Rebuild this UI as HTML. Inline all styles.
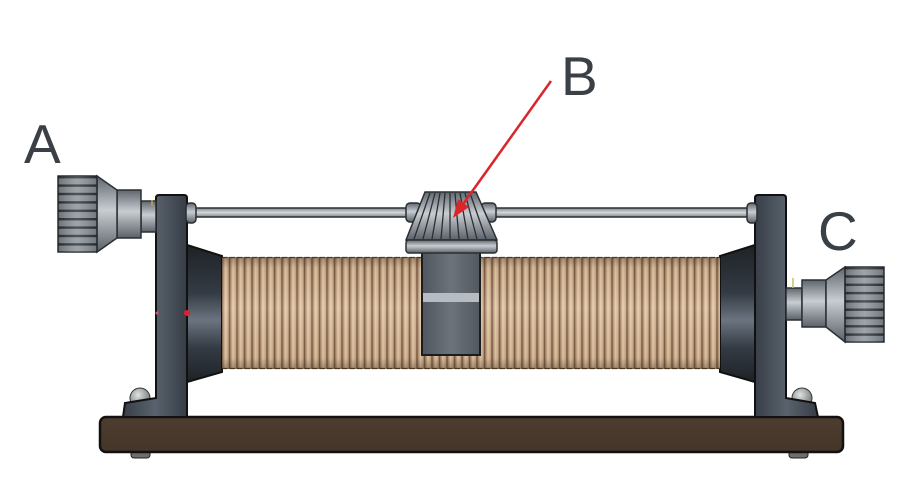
<!DOCTYPE html>
<html><head><meta charset="utf-8"><style>
html,body{margin:0;padding:0;background:#fff;}
svg{display:block;}
text{font-family:"Liberation Sans",sans-serif;fill:#3b4046;}
</style></head><body>
<svg width="900" height="497" viewBox="0 0 900 497" xmlns="http://www.w3.org/2000/svg">
<defs>
  <linearGradient id="metalV" x1="0" y1="0" x2="0" y2="1">
    <stop offset="0" stop-color="#5f666d"/>
    <stop offset="0.45" stop-color="#c8cdd2"/>
    <stop offset="1" stop-color="#5a6168"/>
  </linearGradient>
  <linearGradient id="rodG" x1="0" y1="0" x2="0" y2="1">
    <stop offset="0" stop-color="#7d858c"/>
    <stop offset="0.5" stop-color="#d4d8dc"/>
    <stop offset="1" stop-color="#7d858c"/>
  </linearGradient>
  <linearGradient id="standG" x1="0" y1="0" x2="1" y2="0">
    <stop offset="0" stop-color="#383f48"/>
    <stop offset="0.5" stop-color="#59616c"/>
    <stop offset="1" stop-color="#363d45"/>
  </linearGradient>
  <linearGradient id="flangeG" x1="0" y1="0" x2="0" y2="1">
    <stop offset="0" stop-color="#1e2227"/>
    <stop offset="0.35" stop-color="#343b43"/>
    <stop offset="0.55" stop-color="#6b7480"/>
    <stop offset="0.75" stop-color="#343b43"/>
    <stop offset="1" stop-color="#1e2227"/>
  </linearGradient>
  <linearGradient id="turnG" x1="0" y1="0" x2="1" y2="0">
    <stop offset="0" stop-color="#6a4e36"/>
    <stop offset="0.12" stop-color="#a9876a"/>
    <stop offset="0.45" stop-color="#e8ceae"/>
    <stop offset="0.82" stop-color="#cfac88"/>
    <stop offset="1" stop-color="#6a4e36"/>
  </linearGradient>
  <pattern id="coilP" x="222" y="0" width="7.5" height="10" patternUnits="userSpaceOnUse">
    <rect x="0" y="0" width="7.5" height="10" fill="url(#turnG)"/>
  </pattern>
  <linearGradient id="coilShade" x1="0" y1="0" x2="0" y2="1">
    <stop offset="0" stop-color="#3a2a1c" stop-opacity="0.4"/>
    <stop offset="0.1" stop-color="#3a2a1c" stop-opacity="0.08"/>
    <stop offset="0.45" stop-color="#fff" stop-opacity="0.1"/>
    <stop offset="0.9" stop-color="#3a2a1c" stop-opacity="0.08"/>
    <stop offset="1" stop-color="#3a2a1c" stop-opacity="0.4"/>
  </linearGradient>
  <linearGradient id="sliderG" x1="0" y1="0" x2="1" y2="0">
    <stop offset="0" stop-color="#50565e"/>
    <stop offset="0.5" stop-color="#6c737b"/>
    <stop offset="1" stop-color="#52585f"/>
  </linearGradient>
  <pattern id="knurlP" x="0" y="176" width="10" height="8.4" patternUnits="userSpaceOnUse">
    <rect width="10" height="8.4" fill="#8c949b"/>
    <rect y="0" width="10" height="2.4" fill="#2f3439"/>
  </pattern>
  <pattern id="knurlP2" x="0" y="267" width="10" height="8.3" patternUnits="userSpaceOnUse">
    <rect width="10" height="8.3" fill="#8c949b"/>
    <rect y="0" width="10" height="2.4" fill="#2f3439"/>
  </pattern>
  <linearGradient id="knurlShade" x1="0" y1="0" x2="1" y2="0">
    <stop offset="0" stop-color="#000" stop-opacity="0.25"/>
    <stop offset="0.5" stop-color="#fff" stop-opacity="0.15"/>
    <stop offset="1" stop-color="#000" stop-opacity="0.2"/>
  </linearGradient>
  <linearGradient id="baseG" x1="0" y1="0" x2="0" y2="1">
    <stop offset="0" stop-color="#4e3d2f"/>
    <stop offset="1" stop-color="#44352a"/>
  </linearGradient>
  <radialGradient id="ballG" cx="0.4" cy="0.35" r="0.7">
    <stop offset="0" stop-color="#e0e3e0"/>
    <stop offset="1" stop-color="#6d736f"/>
  </radialGradient>
</defs>

<!-- Labels -->
<text x="24" y="163" font-size="55">A</text>
<text x="561" y="95" font-size="55">B</text>
<text x="818" y="250" font-size="55">C</text>

<!-- Base board -->
<rect x="131" y="446" width="19" height="12" rx="3" fill="#6b6f68" stroke="#222" stroke-width="1"/>
<rect x="789" y="446" width="19" height="12" rx="3" fill="#6b6f68" stroke="#222" stroke-width="1"/>
<rect x="100" y="417" width="743" height="35" rx="6" fill="url(#baseG)" stroke="#111" stroke-width="2.5"/>

<!-- Balls -->
<circle cx="140" cy="398" r="10" fill="url(#ballG)" stroke="#333" stroke-width="1"/>
<circle cx="802" cy="398" r="10" fill="url(#ballG)" stroke="#333" stroke-width="1"/>

<!-- Left stand -->
<path d="M159,195 L184,195 Q187,195 187,198 L187,417 L123,417 L125,403 L156,398 L156,198 Q156,195 159,195 Z" fill="url(#standG)" stroke="#111" stroke-width="2"/>
<!-- Right stand -->
<path d="M758,195 L783,195 Q786,195 786,198 L786,398 L815,403 L818,417 L755,417 L755,198 Q755,195 758,195 Z" fill="url(#standG)" stroke="#111" stroke-width="2"/>

<!-- Flanges -->
<path d="M187,245 L222,256 L222,372 L187,382 Z" fill="url(#flangeG)" stroke="#111" stroke-width="2"/>
<path d="M755,245 L720,256 L720,372 L755,382 Z" fill="url(#flangeG)" stroke="#111" stroke-width="2"/>

<!-- Coil -->
<rect x="222" y="257" width="498" height="112" fill="url(#coilP)"/>
<rect x="222" y="257" width="498" height="112" fill="url(#coilShade)"/>
<line x1="222" y1="257.5" x2="720" y2="257.5" stroke="#4a3725" stroke-width="1.2" stroke-dasharray="5.5 2"/>
<line x1="222" y1="368.5" x2="720" y2="368.5" stroke="#4a3725" stroke-width="1.2" stroke-dasharray="5.5 2"/>

<!-- Rod -->
<rect x="192" y="208" width="560" height="9" fill="url(#rodG)" stroke="#2a2f33" stroke-width="1.5"/>
<rect x="186" y="203" width="10" height="20" rx="4" fill="url(#metalV)" stroke="#2a2f33" stroke-width="1.5"/>
<rect x="747" y="203" width="10" height="20" rx="4" fill="url(#metalV)" stroke="#2a2f33" stroke-width="1.5"/>

<!-- Left knob A -->
<rect x="141" y="201" width="15" height="31" fill="url(#metalV)" stroke="#2a2f33" stroke-width="1.5"/>
<rect x="117" y="190" width="24" height="48" fill="url(#metalV)" stroke="#2a2f33" stroke-width="1.5"/>
<path d="M97,176 L117,190 L117,238 L97,252 Z" fill="url(#metalV)" stroke="#2a2f33" stroke-width="1.5"/>
<rect x="58" y="176" width="39" height="76" fill="url(#knurlP)" stroke="#2a2f33" stroke-width="1.5"/>
<rect x="58" y="176" width="39" height="76" fill="url(#knurlShade)"/>
<line x1="152" y1="200" x2="152" y2="206" stroke="#c9a340" stroke-width="1.5"/>

<!-- Right knob C -->
<rect x="786" y="288" width="16" height="32" fill="url(#metalV)" stroke="#2a2f33" stroke-width="1.5"/>
<rect x="802" y="280" width="24" height="47" fill="url(#metalV)" stroke="#2a2f33" stroke-width="1.5"/>
<path d="M845,267 L826,280 L826,327 L845,342 Z" fill="url(#metalV)" stroke="#2a2f33" stroke-width="1.5"/>
<rect x="845" y="267" width="39" height="75" fill="url(#knurlP2)" stroke="#2a2f33" stroke-width="1.5"/>
<rect x="845" y="267" width="39" height="75" fill="url(#knurlShade)"/>
<line x1="793" y1="278" x2="793" y2="288" stroke="#c9c060" stroke-width="1.5"/>

<!-- Slider block -->
<rect x="422" y="252" width="58" height="103" fill="url(#sliderG)" stroke="#1a1d20" stroke-width="2"/>
<rect x="423" y="293" width="56" height="9" fill="#b7bcc2"/>
<!-- Slider side caps -->
<rect x="406" y="203" width="15" height="19" rx="4" fill="url(#metalV)" stroke="#2a2f33" stroke-width="1.5"/>
<rect x="481" y="203" width="15" height="19" rx="4" fill="url(#metalV)" stroke="#2a2f33" stroke-width="1.5"/>
<!-- Slider knob cone -->
<path d="M425,192 L476,192 L497,240 L406,240 Z" fill="url(#metalV)" stroke="#2a2f33" stroke-width="1.5"/>
<g stroke="#2a2f33" stroke-width="1.3">
  <line x1="430" y1="193" x2="414" y2="239"/>
  <line x1="435" y1="193" x2="423" y2="239"/>
  <line x1="440" y1="193" x2="432" y2="239"/>
  <line x1="445" y1="193" x2="441" y2="239"/>
  <line x1="450" y1="193" x2="450" y2="239"/>
  <line x1="455" y1="193" x2="459" y2="239"/>
  <line x1="460" y1="193" x2="468" y2="239"/>
  <line x1="465" y1="193" x2="477" y2="239"/>
  <line x1="470" y1="193" x2="486" y2="239"/>
</g>
<rect x="406" y="240" width="91" height="13" rx="3" fill="url(#metalV)" stroke="#2a2f33" stroke-width="1.5"/>

<!-- Red dots -->
<circle cx="187" cy="313" r="3" fill="#e0202a"/>
<circle cx="157" cy="313" r="1.5" fill="#e05060"/>

<!-- Arrow B -->
<line x1="551" y1="81" x2="461" y2="207" stroke="#d9262b" stroke-width="2.5"/>
<polygon points="453,218 458,199 469,207" fill="#d9262b"/>
</svg>
</body></html>
